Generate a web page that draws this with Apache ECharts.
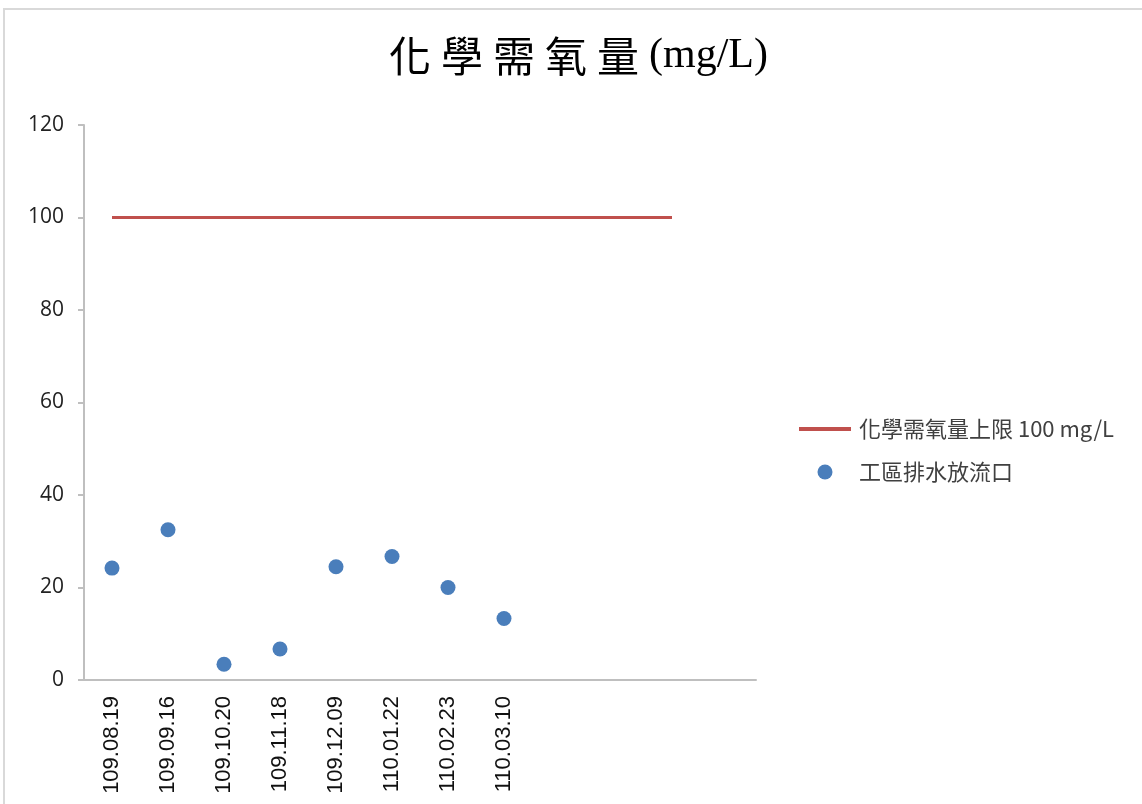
<!DOCTYPE html>
<html>
<head>
<meta charset="utf-8">
<script src="https://cdn.jsdelivr.net/npm/echarts@6/dist/echarts.min.js"></script>
<style>
  html, body { margin: 0; padding: 0; background: #fff; overflow: hidden; }
  #frame { position: absolute; left: 3px; top: 8px; width: 1300px; height: 900px;
           border-top: 2px solid #d9d9d9; border-left: 2px solid #d9d9d9; }
  #chart { position: absolute; left: 0; top: 0; width: 1142px; height: 804px; }
</style>
</head>
<body>
<div id="frame"></div>
<div id="chart"></div>
<script>
// 採樣日期（後面四格留空）
const dates = ['109.08.19', '109.09.16', '109.10.20', '109.11.18', '109.12.09', '110.01.22', '110.02.23', '110.03.10', '', '', '', '']
// 工區排水放流口 COD 量測值
const outletValues = [24.2, 32.5, 3.4, 6.7, 24.5, 26.7, 20.0, 13.3]
// 上限 100 mg/L，畫到第 11 格
const limitValues = [100, 100, 100, 100, 100, 100, 100, 100, 100, 100, 100, '-']
const yTicks = { min: 0, max: 120, interval: 20 }

const titleText = '化學需氧量(mg/L)'
const limitName = '化學需氧量上限 100 mg/L'
const outletName = '工區排水放流口'

// 標題逐字排開
const titleRich = titleText.split('').map(ch => /[\u4e00-\u9fff]/.test(ch) ? `{c|${ch}}` : `{h|${ch}}`).join('')

const myChart = echarts.init(document.getElementById('chart'), null, { renderer: 'canvas' })
const option = {
  animation: false,
  title: {
    text: titleRich,
    left: 384,
    top: 30,
    textStyle: {
      rich: {
        c: { fontFamily: 'Noto Sans CJK TC', fontSize: 42, width: 52, color: '#000', fontWeight: 'normal' },
        h: { fontFamily: 'Liberation Serif', fontSize: 42, color: '#000', fontWeight: 'normal' }
      }
    }
  },
  legend: {
    orient: 'vertical',
    left: 797,
    top: 418,
    padding: 0,
    itemWidth: 52,
    itemHeight: 15,
    itemGap: 21,
    textStyle: { fontFamily: 'Noto Sans CJK TC', fontSize: 22, color: '#404040', padding: [0, 0, 0, 3] },
    data: [
      { name: limitName, itemStyle: { opacity: 0 }, lineStyle: { width: 4 } },
      { name: outletName }
    ]
  },
  grid: { left: 84, right: 386, top: 125, bottom: 124, containLabel: false },
  xAxis: {
    type: 'category',
    data: dates,
    boundaryGap: true,
    axisLine: { lineStyle: { color: '#bfbfbf', width: 2 } },
    axisTick: { interval: 0, length: 6, lineStyle: { color: '#bfbfbf', width: 2 } },
    axisLabel: {
      interval: 0,
      rotate: 90,
      margin: 16,
      fontFamily: 'Liberation Sans',
      fontSize: 22,
      color: '#111'
    },
    splitLine: { show: false }
  },
  yAxis: {
    type: 'value',
    min: yTicks.min,
    max: yTicks.max,
    interval: yTicks.interval,
    axisLine: { show: true, lineStyle: { color: '#bfbfbf', width: 2 } },
    axisTick: { show: true, length: 6, lineStyle: { color: '#bfbfbf', width: 2 } },
    axisLabel: { margin: 20, fontFamily: 'Open Sans', fontSize: 21, color: '#222' },
    splitLine: { show: false }
  },
  series: [
    {
      name: limitName,
      type: 'line',
      data: limitValues,
      symbol: 'none',
      lineStyle: { color: '#C0504D', width: 3 },
      itemStyle: { color: '#C0504D' }
    },
    {
      name: outletName,
      type: 'scatter',
      data: outletValues,
      symbol: 'circle',
      symbolSize: 15,
      itemStyle: { color: '#4A7EBB', opacity: 1 }
    }
  ]
}
myChart.setOption(option)
</script>
</body>
</html>
